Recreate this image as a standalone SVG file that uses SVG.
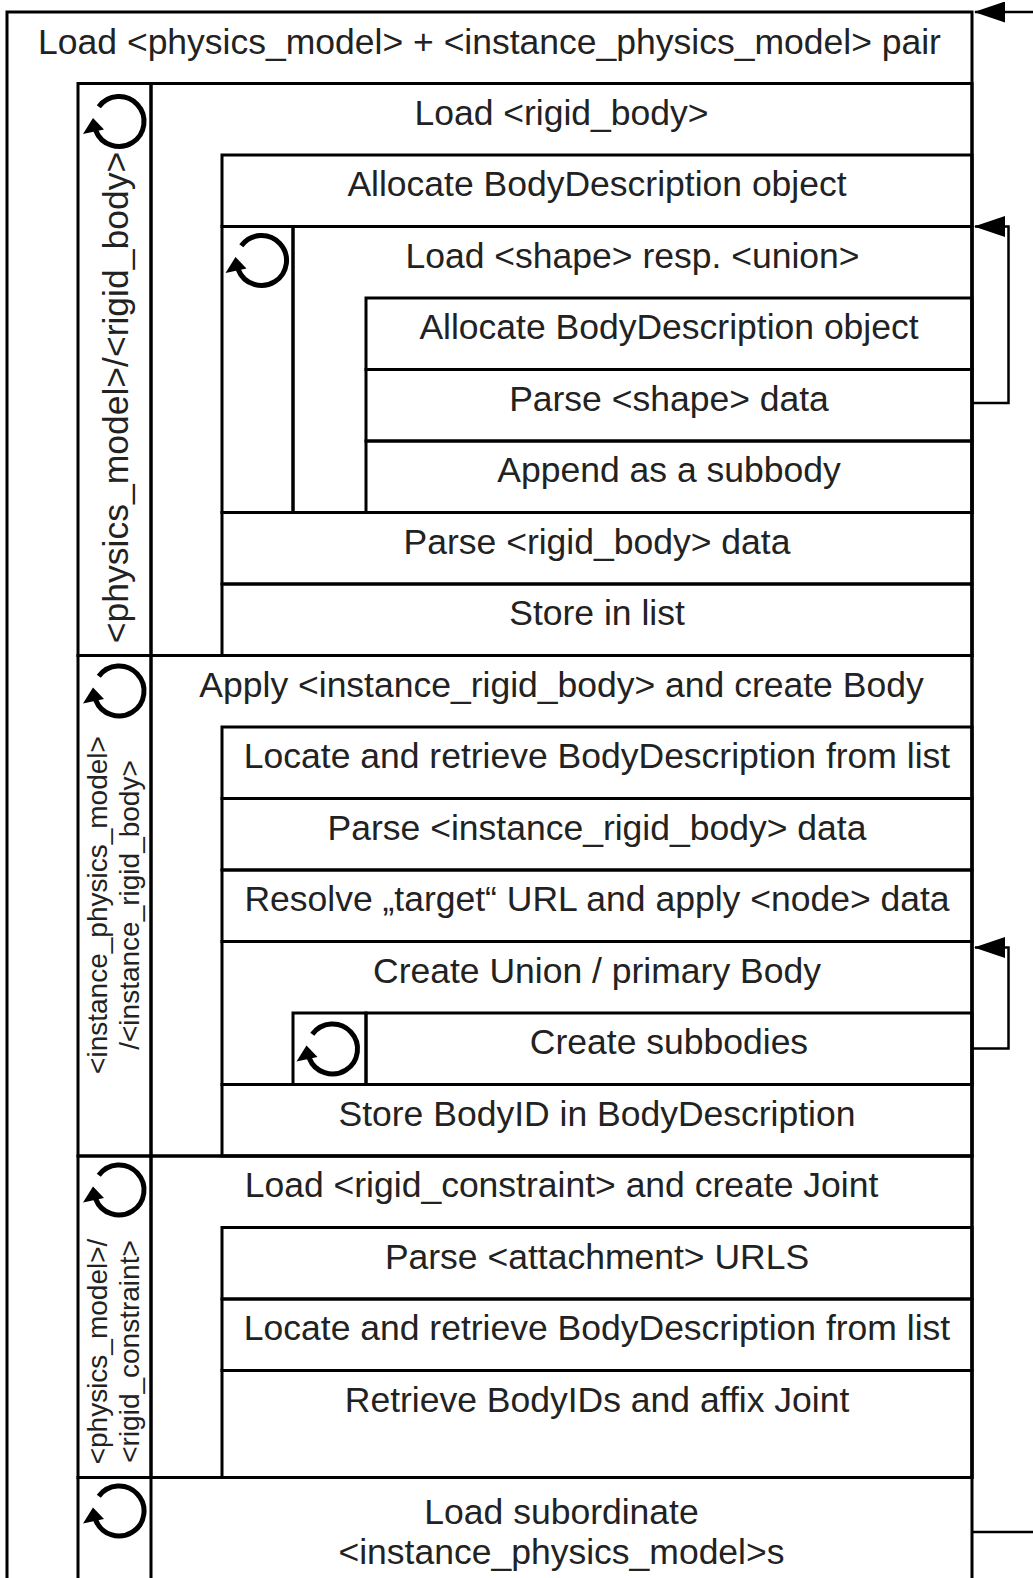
<svg xmlns="http://www.w3.org/2000/svg" xmlns:xlink="http://www.w3.org/1999/xlink" width="1033" height="1578" viewBox="0 0 1033 1578">
<style>
.box{fill:none;stroke:#000;stroke-width:3}
.t{font-family:"Liberation Sans",Arial,sans-serif;font-size:35.5px;fill:#222;text-anchor:middle}
.ts{font-family:"Liberation Sans",Arial,sans-serif;font-size:28px;fill:#222;text-anchor:middle}
.conn{fill:none;stroke:#000;stroke-width:2.5}
</style>
<defs>
<marker id="arr" markerUnits="userSpaceOnUse" markerWidth="31" markerHeight="21" viewBox="0 0 31 21" refX="30" refY="10.5" orient="auto">
<path d="M0,0 L31,10.5 L0,21 Z" fill="#000"/>
</marker>
<g id="loop">
<path d="M-20.2,-14.7 A25,25 0 1 1 -23.3,9" fill="none" stroke="#000" stroke-width="5"/>
<polygon points="-26,-3.5 -36,12.5 -15,8" fill="#000"/>
</g>
</defs>
<rect width="1033" height="1578" fill="#fff"/>

<g id="outer">
<path class="box" d="M7,1578 V12 H972 V1578"/>
<text class="t" x="489.5" y="53.5">Load &lt;physics_model&gt; + &lt;instance_physics_model&gt; pair</text>
</g>

<g id="loop_rigid_body">
<rect class="box" x="78" y="83.5" width="73" height="572"/>
<use xlink:href="#loop" href="#loop" x="119" y="121.5"/>
<text class="t" transform="rotate(-90 128 397.5)" x="128" y="397.5">&lt;physics_model&gt;/&lt;rigid_body&gt;</text>
</g>
<g id="load_rigid_body">
<rect class="box" x="151" y="83.5" width="821" height="572"/>
<text class="t" x="561.5" y="124.5">Load &lt;rigid_body&gt;</text>
</g>
<g id="alloc_bd_1">
<rect class="box" x="222" y="155" width="750" height="71.5"/>
<text class="t" x="597" y="196">Allocate BodyDescription object</text>
</g>
<g id="loop_shape">
<rect class="box" x="222" y="226.5" width="71" height="286"/>
<use xlink:href="#loop" href="#loop" x="261.5" y="260.5"/>
</g>
<g id="load_shape">
<rect class="box" x="293" y="226.5" width="679" height="286"/>
<text class="t" x="632.5" y="267.5">Load &lt;shape&gt; resp. &lt;union&gt;</text>
</g>
<g id="alloc_bd_2">
<rect class="box" x="366" y="298" width="606" height="71.5"/>
<text class="t" x="669" y="339">Allocate BodyDescription object</text>
</g>
<g id="parse_shape">
<rect class="box" x="366" y="369.5" width="606" height="71.5"/>
<text class="t" x="669" y="410.5">Parse &lt;shape&gt; data</text>
</g>
<g id="append_subbody">
<rect class="box" x="366" y="441" width="606" height="71.5"/>
<text class="t" x="669" y="482">Append as a subbody</text>
</g>
<g id="parse_rigid_body">
<rect class="box" x="222" y="512.5" width="750" height="71.5"/>
<text class="t" x="597" y="553.5">Parse &lt;rigid_body&gt; data</text>
</g>
<g id="store_list">
<rect class="box" x="222" y="584" width="750" height="71.5"/>
<text class="t" x="597" y="625">Store in list</text>
</g>

<g id="loop_instance">
<rect class="box" x="78" y="655.5" width="73" height="500.5"/>
<use xlink:href="#loop" href="#loop" x="119" y="691"/>
<text class="ts" transform="rotate(-90 107 905)" x="107" y="905">&lt;instance_physics_model&gt;</text>
<text class="ts" transform="rotate(-90 138.5 905)" x="138.5" y="905">/&lt;instance_rigid_body&gt;</text>
</g>
<g id="apply_irb">
<rect class="box" x="151" y="655.5" width="821" height="500.5"/>
<text class="t" x="561.5" y="696.5">Apply &lt;instance_rigid_body&gt; and create Body</text>
</g>
<g id="locate_1">
<rect class="box" x="222" y="727" width="750" height="71.5"/>
<text class="t" x="597" y="768">Locate and retrieve BodyDescription from list</text>
</g>
<g id="parse_irb">
<rect class="box" x="222" y="798.5" width="750" height="71.5"/>
<text class="t" x="597" y="839.5">Parse &lt;instance_rigid_body&gt; data</text>
</g>
<g id="resolve_target">
<rect class="box" x="222" y="870" width="750" height="71.5"/>
<text class="t" x="597" y="911">Resolve „target“ URL and apply &lt;node&gt; data</text>
</g>
<g id="create_union">
<rect class="box" x="222" y="941.5" width="750" height="143"/>
<text class="t" x="597" y="982.5">Create Union / primary Body</text>
</g>
<g id="loop_sub">
<rect class="box" x="293" y="1013" width="73" height="71.5"/>
<use xlink:href="#loop" href="#loop" x="332.5" y="1049"/>
</g>
<g id="create_subbodies">
<rect class="box" x="366" y="1013" width="606" height="71.5"/>
<text class="t" x="669" y="1054">Create subbodies</text>
</g>
<g id="store_bodyid">
<rect class="box" x="222" y="1084.5" width="750" height="71.5"/>
<text class="t" x="597" y="1125.5">Store BodyID in BodyDescription</text>
</g>

<g id="loop_constraint">
<rect class="box" x="78" y="1156" width="73" height="321.5"/>
<use xlink:href="#loop" href="#loop" x="119" y="1190"/>
<text class="ts" transform="rotate(-90 107 1351.5)" x="107" y="1351.5">&lt;physics_model&gt;/</text>
<text class="ts" transform="rotate(-90 139 1351.5)" x="139" y="1351.5">&lt;rigid_constraint&gt;</text>
</g>
<g id="load_constraint">
<rect class="box" x="151" y="1156" width="821" height="321.5"/>
<text class="t" x="561.5" y="1197">Load &lt;rigid_constraint&gt; and create Joint</text>
</g>
<g id="parse_attach">
<rect class="box" x="222" y="1227.5" width="750" height="71.5"/>
<text class="t" x="597" y="1268.5">Parse &lt;attachment&gt; URLS</text>
</g>
<g id="locate_2">
<rect class="box" x="222" y="1299" width="750" height="71.5"/>
<text class="t" x="597" y="1340">Locate and retrieve BodyDescription from list</text>
</g>
<g id="retrieve_bodyids">
<rect class="box" x="222" y="1370.5" width="750" height="107"/>
<text class="t" x="597" y="1411.5">Retrieve BodyIDs and affix Joint</text>
</g>

<g id="loop_subordinate">
<path class="box" d="M78,1578 V1477.5 H151 V1578"/>
<use xlink:href="#loop" href="#loop" x="119" y="1511"/>
</g>
<g id="load_subordinate">
<path class="box" d="M151,1477.5 H972"/>
<text class="t" x="561.5" y="1523.5">Load subordinate</text>
<text class="t" x="561.5" y="1563.5">&lt;instance_physics_model&gt;s</text>
</g>

<g id="connectors">
<path class="conn" d="M972,1532 H1033"/>
<path class="conn" d="M1033,12 H975" marker-end="url(#arr)"/>
<path class="conn" d="M972,403 H1008.5 V226.5 H975" marker-end="url(#arr)"/>
<path class="conn" d="M972,1048.5 H1008.5 V947.5 H975" marker-end="url(#arr)"/>
</g>
</svg>
